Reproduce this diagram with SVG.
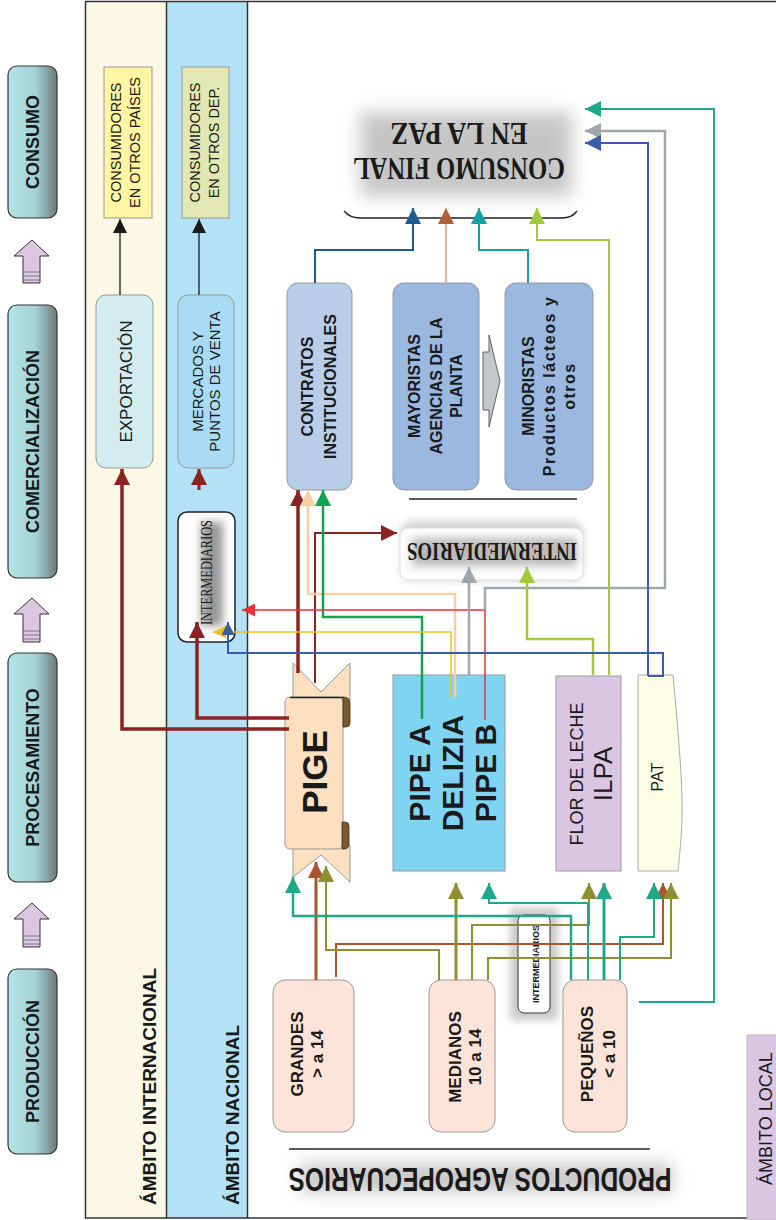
<svg xmlns="http://www.w3.org/2000/svg" width="776" height="1220" viewBox="0 0 776 1220">
<defs>
<style>
.t{font-family:"Liberation Sans",Arial,sans-serif;fill:#1a1a1a}
.b{font-weight:bold}
.sf{font-family:"Liberation Serif","Times New Roman",serif;font-weight:bold;fill:#1a1a1a}
.stage{fill:url(#stg);stroke:#333;stroke-width:1.2}
.sarrow{fill:#dcc6e2;stroke:#333;stroke-width:1}
.nb{stroke:#999;stroke-width:1}
</style>
<linearGradient id="stg" x1="0" y1="0" x2="1" y2="0">
<stop offset="0" stop-color="#b2e4e8"/>
<stop offset="0.55" stop-color="#a5d3d7"/>
<stop offset="1" stop-color="#6c787c"/>
</linearGradient>
<filter id="bl8" x="-40%" y="-60%" width="180%" height="220%"><feGaussianBlur stdDeviation="9"/></filter>
<filter id="bl4" x="-40%" y="-40%" width="180%" height="180%"><feGaussianBlur stdDeviation="4"/></filter>
<marker id="m-blk" markerUnits="userSpaceOnUse" markerWidth="14" markerHeight="14" viewBox="0 0 10 10" refX="10" refY="5" orient="auto"><path d="M0,0 L10,5 L0,10 z" fill="#1a1a1a"/></marker>
<marker id="m-dr" markerUnits="userSpaceOnUse" markerWidth="16" markerHeight="16" viewBox="0 0 10 10" refX="10" refY="5" orient="auto"><path d="M0,0 L10,5 L0,10 z" fill="#8b2323"/></marker>
<marker id="m-red" markerUnits="userSpaceOnUse" markerWidth="13" markerHeight="13" viewBox="0 0 10 10" refX="10" refY="5" orient="auto"><path d="M0,0 L10,5 L0,10 z" fill="#e8303a"/></marker>
<marker id="m-yel" markerUnits="userSpaceOnUse" markerWidth="13" markerHeight="13" viewBox="0 0 10 10" refX="10" refY="5" orient="auto"><path d="M0,0 L10,5 L0,10 z" fill="#f2c01e"/></marker>
<marker id="m-blu" markerUnits="userSpaceOnUse" markerWidth="13" markerHeight="13" viewBox="0 0 10 10" refX="10" refY="5" orient="auto"><path d="M0,0 L10,5 L0,10 z" fill="#3a5daa"/></marker>
<marker id="m-blu16" markerUnits="userSpaceOnUse" markerWidth="16" markerHeight="16" viewBox="0 0 10 10" refX="10" refY="5" orient="auto"><path d="M0,0 L10,5 L0,10 z" fill="#3a5daa"/></marker>
<marker id="m-pch" markerUnits="userSpaceOnUse" markerWidth="16" markerHeight="16" viewBox="0 0 10 10" refX="10" refY="5" orient="auto"><path d="M0,0 L10,5 L0,10 z" fill="#f5cfa5"/></marker>
<marker id="m-grn" markerUnits="userSpaceOnUse" markerWidth="16" markerHeight="16" viewBox="0 0 10 10" refX="10" refY="5" orient="auto"><path d="M0,0 L10,5 L0,10 z" fill="#10a450"/></marker>
<marker id="m-gry" markerUnits="userSpaceOnUse" markerWidth="16" markerHeight="16" viewBox="0 0 10 10" refX="10" refY="5" orient="auto"><path d="M0,0 L10,5 L0,10 z" fill="#9ea6ae"/></marker>
<marker id="m-lg" markerUnits="userSpaceOnUse" markerWidth="16" markerHeight="16" viewBox="0 0 10 10" refX="10" refY="5" orient="auto"><path d="M0,0 L10,5 L0,10 z" fill="#a4c83c"/></marker>
<marker id="m-tl" markerUnits="userSpaceOnUse" markerWidth="16" markerHeight="16" viewBox="0 0 10 10" refX="10" refY="5" orient="auto"><path d="M0,0 L10,5 L0,10 z" fill="#1ea888"/></marker>
<marker id="m-nv" markerUnits="userSpaceOnUse" markerWidth="16" markerHeight="16" viewBox="0 0 10 10" refX="10" refY="5" orient="auto"><path d="M0,0 L10,5 L0,10 z" fill="#1f5b8a"/></marker>
<marker id="m-sal" markerUnits="userSpaceOnUse" markerWidth="16" markerHeight="16" viewBox="0 0 10 10" refX="10" refY="5" orient="auto"><path d="M0,0 L10,5 L0,10 z" fill="#b0603a"/></marker>
<marker id="m-cy" markerUnits="userSpaceOnUse" markerWidth="16" markerHeight="16" viewBox="0 0 10 10" refX="10" refY="5" orient="auto"><path d="M0,0 L10,5 L0,10 z" fill="#17a0a8"/></marker>
<marker id="m-ol" markerUnits="userSpaceOnUse" markerWidth="16" markerHeight="16" viewBox="0 0 10 10" refX="10" refY="5" orient="auto"><path d="M0,0 L10,5 L0,10 z" fill="#8e8e32"/></marker>
<marker id="m-br" markerUnits="userSpaceOnUse" markerWidth="16" markerHeight="16" viewBox="0 0 10 10" refX="10" refY="5" orient="auto"><path d="M0,0 L10,5 L0,10 z" fill="#a9552d"/></marker>
</defs>

<rect x="0" y="0" width="776" height="1220" fill="#fff"/>

<!-- bands -->
<g id="bands">
<rect x="86" y="1.5" width="81" height="1216.5" fill="#fbf9e6"/>
<rect x="167" y="1.5" width="80.5" height="1216.5" fill="#b3e2f6"/>
<line x1="166.5" y1="1.5" x2="166.5" y2="1218" stroke="#333" stroke-width="1.5"/>
<line x1="247.5" y1="1.5" x2="247.5" y2="1218" stroke="#333" stroke-width="1.5"/>
<rect x="85.5" y="1.5" width="700" height="1216.5" fill="none" stroke="#333" stroke-width="1.5"/>
<text class="t b" font-size="19" transform="translate(156,1205) rotate(-90)">ÁMBITO INTERNACIONAL</text>
<text class="t b" font-size="19" transform="translate(239,1205) rotate(-90)">ÁMBITO NACIONAL</text>
</g>

<g id="ambito-local">
<rect x="747" y="1035" width="40" height="185" fill="#dac6e2" stroke="#bbb"/>
<text class="t" font-size="18" transform="translate(772,1185) rotate(-90)">ÁMBITO LOCAL</text>
</g>

<!-- stages -->
<g id="stage-consumo"><rect class="stage" x="8" y="66" width="49" height="152" rx="9"/>
<text class="t b" font-size="18" text-anchor="middle" transform="translate(39,142) rotate(-90)">CONSUMO</text></g>
<g id="stage-comercializacion"><rect class="stage" x="8" y="305" width="49" height="273" rx="9"/>
<text class="t b" font-size="18" text-anchor="middle" transform="translate(39,441.5) rotate(-90)">COMERCIALIZACIÓN</text></g>
<g id="stage-procesamiento"><rect class="stage" x="8" y="653" width="49" height="229" rx="9"/>
<text class="t b" font-size="18" text-anchor="middle" transform="translate(39,767.5) rotate(-90)">PROCESAMIENTO</text></g>
<g id="stage-produccion"><rect class="stage" x="8" y="969" width="49" height="185" rx="9"/>
<text class="t b" font-size="18" text-anchor="middle" transform="translate(39,1061.5) rotate(-90)">PRODUCCIÓN</text></g>

<g id="stage-arrows">
<g><polygon class="sarrow" points="32,240 49,256 40,256 40,283 23,283 23,256 14,256"/><path d="M23,272H40M23,276H40M23,280H40" stroke="#666" stroke-width="0.8"/></g>
<g><polygon class="sarrow" points="32,598 49,614 40,614 40,642 23,642 23,614 14,614"/><path d="M23,631H40M23,635H40M23,639H40" stroke="#666" stroke-width="0.8"/></g>
<g><polygon class="sarrow" points="32,903 49,919 40,919 40,947 23,947 23,919 14,919"/><path d="M23,936H40M23,940H40M23,944H40" stroke="#666" stroke-width="0.8"/></g>
</g>

<!-- international / national nodes -->
<g id="cons-paises"><rect x="104" y="67" width="48" height="151" fill="#fff5a3" stroke="#999"/>
<text class="t" font-size="14.5" text-anchor="middle" transform="translate(121,142.5) rotate(-90)"><tspan x="0" y="0">CONSUMIDORES</tspan><tspan x="0" y="19">EN OTROS PAÍSES</tspan></text></g>
<g id="cons-dep"><rect x="182" y="67" width="47" height="151" fill="#e2e8b4" stroke="#999"/>
<text class="t" font-size="14.5" text-anchor="middle" transform="translate(200,142.5) rotate(-90)"><tspan x="0" y="0">CONSUMIDORES</tspan><tspan x="0" y="19">EN OTROS DEP.</tspan></text></g>
<g id="exportacion"><rect x="96" y="295" width="57" height="173" rx="10" fill="#d2ecef" stroke="#999"/>
<text class="t" font-size="17" text-anchor="middle" transform="translate(132,381.5) rotate(-90)">EXPORTACIÓN</text></g>
<g id="mercados"><rect x="178" y="295" width="56" height="173" rx="10" fill="#a9dcf4" stroke="#999"/>
<text class="t" font-size="15" text-anchor="middle" transform="translate(203,381.5) rotate(-90)"><tspan x="0" y="0">MERCADOS Y</tspan><tspan x="0" y="17">PUNTOS DE VENTA</tspan></text></g>
<g id="intermediarios-nac"><rect x="178" y="512" width="57" height="130" rx="9" fill="#fff" stroke="#222" stroke-width="1.5"/>
<rect x="201" y="522" width="22" height="104" fill="#999" filter="url(#bl4)"/>
<text class="sf" font-size="16" fill="#333" text-anchor="middle" textLength="105" lengthAdjust="spacingAndGlyphs" transform="translate(212,572.5) rotate(-90)" style="font-weight:normal">INTERMEDIARIOS</text></g>

<!-- consumo final -->
<g id="consumo-final">
<rect x="360" y="112" width="212" height="84" fill="#a0a0a0" filter="url(#bl8)" opacity="0.6"/>
<g transform="rotate(180 459 155)">
<text class="sf" font-size="31" x="459" y="152" text-anchor="middle" textLength="212" lengthAdjust="spacingAndGlyphs">CONSUMO FINAL</text>
<text class="sf" font-size="31" x="459" y="187" text-anchor="middle" textLength="137" lengthAdjust="spacingAndGlyphs">EN LA PAZ</text>
</g>
<path d="M344,211 Q350,218 360,218 L562,218 Q572,218 577,211" fill="none" stroke="#222" stroke-width="1.3"/>
</g>

<!-- commercial nodes -->
<g id="contratos"><rect x="287" y="283" width="65" height="207" rx="11" fill="#b8cde8" class="nb"/>
<text class="t b" font-size="16" text-anchor="middle" transform="translate(313,386.5) rotate(-90)"><tspan x="0" y="0">CONTRATOS</tspan><tspan x="0" y="23">INSTITUCIONALES</tspan></text></g>
<g id="mayoristas"><rect x="393" y="283" width="86" height="207" rx="11" fill="#9bb8e0" class="nb"/>
<text class="t b" font-size="16" text-anchor="middle" transform="translate(420,386) rotate(-90)"><tspan x="0" y="0">MAYORISTAS</tspan><tspan x="0" y="22">AGENCIAS DE LA</tspan><tspan x="0" y="42">PLANTA</tspan></text></g>
<g id="flecha-may-min"><polygon points="483,352 489,352 489,335 500,381 489,427 489,410 483,410" fill="#c3c6ca" stroke="#444" stroke-width="0.8"/></g>
<g id="minoristas"><rect x="505" y="283" width="88" height="207" rx="11" fill="#9bb8e0" class="nb"/>
<text class="t b" font-size="16" text-anchor="middle" transform="translate(534,386) rotate(-90)"><tspan x="0" y="0">MINORISTAS</tspan><tspan x="0" y="21" letter-spacing="1.5">Productos lácteos y</tspan><tspan x="0" y="41" letter-spacing="1.5">otros</tspan></text></g>
<line x1="409" y1="499" x2="577" y2="499" stroke="#222" stroke-width="1.3"/>

<g id="intermediarios-local">
<rect x="402" y="522" width="180" height="58" rx="8" fill="#ccc" filter="url(#bl4)"/>
<rect x="400" y="528" width="183" height="52" rx="8" fill="#fdfdfd" stroke="#e0e0e0"/>
<rect x="412" y="538" width="165" height="28" fill="#aaa" filter="url(#bl4)" opacity="0.8"/>
<g transform="rotate(180 492 550)"><text class="sf" font-size="25" x="492" y="557" text-anchor="middle" textLength="170" lengthAdjust="spacingAndGlyphs">INTERMEDIARIOS</text></g>
</g>

<!-- processing nodes -->
<g id="pige">
<polygon points="293,663 321,692 350,663 350,700 293,700" fill="#fde0c0" stroke="#999"/>
<polygon points="293,845 350,845 350,882 321,855 293,877" fill="#fde0c0" stroke="#999"/>
<rect x="285" y="697" width="58" height="152" rx="5" fill="#fde0c0" stroke="#999"/>
<path d="M290,697.5 H344" stroke="#222" stroke-width="1.5"/>
<path d="M343,697 q7,0 7,6 v20 q0,4 -4,4 h-3 z" fill="#7a5a2a" stroke="#333" stroke-width="0.8"/>
<path d="M342,822 h3 q4,0 4,4 v18 q0,5 -5,5 h-2 z" fill="#7a5a2a" stroke="#333" stroke-width="0.8"/>
<text class="t b" font-size="35" text-anchor="middle" transform="translate(327,772) rotate(-90)">PIGE</text>
</g>
<g id="pipe"><rect x="393" y="675" width="112" height="196" fill="#7fd4f4" class="nb"/>
<text class="t b" font-size="30" text-anchor="middle" transform="translate(430,773) rotate(-90)"><tspan x="0" y="0">PIPE A</tspan><tspan x="0" y="33">DELIZIA</tspan><tspan x="0" y="66">PIPE B</tspan></text></g>
<g id="ilpa"><rect x="556" y="676" width="65" height="195" fill="#dac6e2" class="nb"/>
<text class="t" font-size="18" text-anchor="middle" transform="translate(583,774) rotate(-90)">FLOR DE LECHE</text>
<text class="t" font-size="26" text-anchor="middle" transform="translate(612,774) rotate(-90)">ILPA</text></g>
<g id="pat"><path d="M638,675 L673,675 C677,720 683,780 682,820 C681,845 679,860 678,871 L638,871 Z" fill="#fefde6" stroke="#aaa"/>
<text class="t" font-size="16" text-anchor="middle" transform="translate(663,777) rotate(-90)">PAT</text></g>

<!-- producers -->
<g id="intermediarios-prod">
<rect x="510" y="908" width="48" height="112" fill="#bbb" filter="url(#bl4)" opacity="0.8"/>
<rect x="518" y="915" width="32" height="98" rx="6" fill="#fff" stroke="#333"/>
<text class="t b" font-size="9" text-anchor="middle" transform="translate(539,964) rotate(-90)">INTERMEDIARIOS</text>
</g>
<g id="grandes"><rect x="273" y="980" width="81" height="152" rx="12" fill="#fde3d8" class="nb"/>
<text class="t b" font-size="17" text-anchor="middle" transform="translate(303,1054) rotate(-90)"><tspan x="0" y="0">GRANDES</tspan><tspan x="0" y="20">&gt; a 14</tspan></text></g>
<g id="medianos"><rect x="429" y="980" width="66" height="152" rx="12" fill="#fde3d8" class="nb"/>
<text class="t b" font-size="17" text-anchor="middle" transform="translate(461,1057) rotate(-90)"><tspan x="0" y="0">MEDIANOS</tspan><tspan x="0" y="20">10 a 14</tspan></text></g>
<g id="pequenos"><rect x="563" y="980" width="64" height="152" rx="12" fill="#fde3d8" class="nb"/>
<text class="t b" font-size="17" text-anchor="middle" transform="translate(593,1054) rotate(-90)"><tspan x="0" y="0">PEQUEÑOS</tspan><tspan x="0" y="22">&lt; a 10</tspan></text></g>

<g id="productos">
<line x1="289" y1="1149" x2="650" y2="1149" stroke="#222" stroke-width="1.3"/>
<rect x="300" y="1164" width="372" height="28" fill="#a0a0a0" filter="url(#bl8)" opacity="0.6"/>
<g transform="rotate(180 480 1180)"><text class="t b" font-size="33" x="480" y="1192" text-anchor="middle" textLength="383" lengthAdjust="spacingAndGlyphs">PRODUCTOS AGROPECUARIOS</text></g>
</g>

<!-- connectors -->
<g id="connectors" fill="none" stroke-linejoin="miter">
<path d="M120,295 V219" stroke="#1a1a1a" stroke-width="1.3" marker-end="url(#m-blk)"/>
<path d="M199,295 V219" stroke="#1a1a1a" stroke-width="1.3" marker-end="url(#m-blk)"/>
<path d="M199,490 V469" stroke="#8b2323" stroke-width="3" marker-end="url(#m-dr)"/>
<path d="M289,729 H122 V469" stroke="#8b2323" stroke-width="3.5" marker-end="url(#m-dr)"/>
<path d="M289,718 H197 V622" stroke="#8b2323" stroke-width="3.5" marker-end="url(#m-dr)"/>
<path d="M298,673 V490" stroke="#8b2323" stroke-width="3.5" marker-end="url(#m-dr)"/>
<path d="M315,683 V533 H397" stroke="#8b2323" stroke-width="2" marker-end="url(#m-dr)"/>
<path d="M455,697 V594 H308 V490" stroke="#f5cfa5" stroke-width="2.5" marker-end="url(#m-pch)"/>
<path d="M422,719 V617 H323 V490" stroke="#10a450" stroke-width="2.5" marker-end="url(#m-grn)"/>
<path d="M451,697 V632 H213" stroke="#f2c01e" stroke-width="1.5" marker-end="url(#m-yel)"/>
<path d="M485,720 V610 H242" stroke="#e8303a" stroke-width="1.5" marker-end="url(#m-red)"/>
<path d="M485,610 V588 H665 V131 H585" stroke="#9ea6ae" stroke-width="2.5" marker-end="url(#m-gry)"/>
<path d="M469,675 V567" stroke="#9ea6ae" stroke-width="2.5" marker-end="url(#m-gry)"/>
<path d="M593,675 V639 H527 V567" stroke="#a4c83c" stroke-width="2.5" marker-end="url(#m-lg)"/>
<path d="M609,675 V240 H537 V208" stroke="#a4c83c" stroke-width="2" marker-end="url(#m-lg)"/>
<path d="M648,676 V143 H585" stroke="#3a5daa" stroke-width="2" marker-end="url(#m-blu16)"/>
<path d="M648,676 H663 V653 H228 V622" stroke="#3a5daa" stroke-width="2" marker-end="url(#m-blu)"/>
<path d="M639,1002 H714 V109 H585" stroke="#1ea888" stroke-width="2" marker-end="url(#m-tl)"/>
<path d="M315,283 V250 H413 V208" stroke="#1f5b8a" stroke-width="2" marker-end="url(#m-nv)"/>
<path d="M446,283 V208" stroke="#d0a080" stroke-width="1.5" marker-end="url(#m-sal)"/>
<path d="M528,283 V250 H479 V208" stroke="#17a0a8" stroke-width="2" marker-end="url(#m-cy)"/>
<path d="M316,980 V862" stroke="#a9552d" stroke-width="3" marker-end="url(#m-br)"/>
<path d="M336,977 V944 H663 V883" stroke="#a9552d" stroke-width="2" marker-end="url(#m-br)"/>
<path d="M439,980 V950 H326 V866" stroke="#8e8e32" stroke-width="2" marker-end="url(#m-ol)"/>
<path d="M456,980 V883" stroke="#8e8e32" stroke-width="3" marker-end="url(#m-ol)"/>
<path d="M472,980 V925 H589 V883" stroke="#8e8e32" stroke-width="2" marker-end="url(#m-ol)"/>
<path d="M488,980 V958 H671 V883" stroke="#8e8e32" stroke-width="2" marker-end="url(#m-ol)"/>
<path d="M571,980 V916 H293 V877" stroke="#1ea888" stroke-width="2.5" marker-end="url(#m-tl)"/>
<path d="M588,980 V903 H489 V883" stroke="#1ea888" stroke-width="2" marker-end="url(#m-tl)"/>
<path d="M604,980 V883" stroke="#1ea888" stroke-width="3" marker-end="url(#m-tl)"/>
<path d="M620,980 V937 H654 V883" stroke="#1ea888" stroke-width="2" marker-end="url(#m-tl)"/>
</g>
</svg>
